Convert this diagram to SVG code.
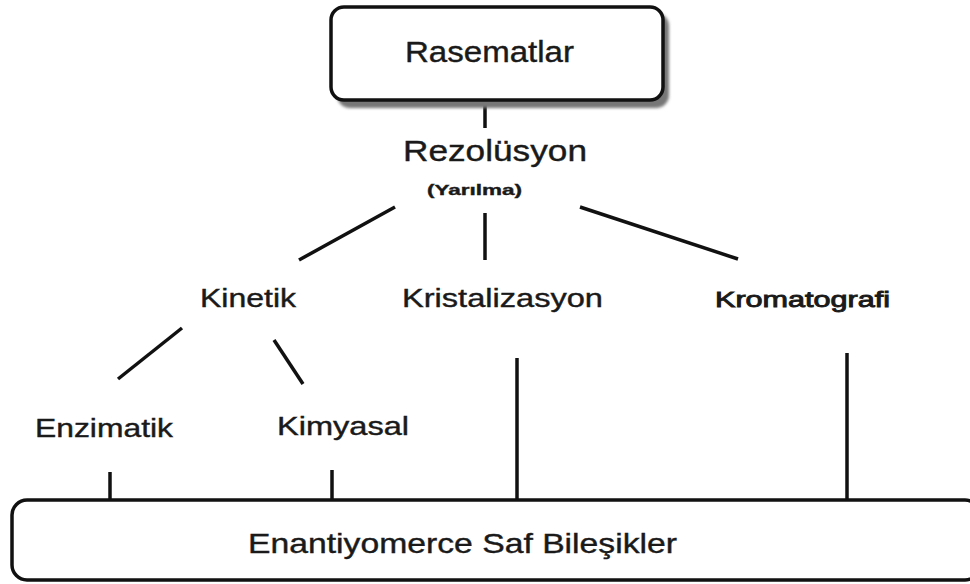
<svg xmlns="http://www.w3.org/2000/svg" width="970" height="584" viewBox="0 0 970 584">
<defs>
<filter id="blur" x="-10%" y="-10%" width="120%" height="130%"><feGaussianBlur stdDeviation="1.5"/></filter>
</defs>
<style>
.t{font-family:"Liberation Sans",Arial,sans-serif;fill:#1a1a1a;stroke:#1a1a1a;stroke-width:0.4;}
.c line{stroke:#111;stroke-width:3.5;stroke-linecap:butt;}
.box{fill:#fff;stroke:#111;stroke-width:3.5;}
</style>
<rect width="970" height="584" fill="#fff"/>
<g id="connectors" class="c">
<line x1="485" y1="102" x2="485" y2="128"/>
<line x1="395" y1="207" x2="299" y2="260"/>
<line x1="485" y1="213" x2="485" y2="260"/>
<line x1="580" y1="207" x2="738" y2="259"/>
<line x1="182" y1="328" x2="118" y2="379"/>
<line x1="274" y1="340" x2="303" y2="384"/>
<line x1="110" y1="472" x2="110" y2="500"/>
<line x1="332" y1="470" x2="332" y2="500"/>
<line x1="517" y1="358" x2="517" y2="500"/>
<line x1="847" y1="353" x2="847" y2="500"/>
</g>
<g id="rasematlar">
<rect x="337" y="13" width="332" height="95" rx="13" fill="#777" filter="url(#blur)"/>
<rect x="331" y="7" width="332" height="93" rx="13" class="box"/>
<text class="t" x="405" y="62" font-size="29" textLength="169" lengthAdjust="spacingAndGlyphs">Rasematlar</text>
</g>
<g id="rezolusyon">
<text class="t" x="403" y="161" font-size="29" textLength="184" lengthAdjust="spacingAndGlyphs">Rezolüsyon</text>
<text class="t" x="427" y="195" font-size="15" font-weight="bold" textLength="95" lengthAdjust="spacingAndGlyphs">(Yarılma)</text>
</g>
<g id="kinetik">
<text class="t" x="200" y="307" font-size="25" textLength="96" lengthAdjust="spacingAndGlyphs">Kinetik</text>
</g>
<g id="kristalizasyon">
<text class="t" x="402" y="307" font-size="25" textLength="201" lengthAdjust="spacingAndGlyphs">Kristalizasyon</text>
</g>
<g id="kromatografi">
<text class="t" x="715" y="307" font-size="22" textLength="175" lengthAdjust="spacingAndGlyphs" style="stroke-width:0.9">Kromatografi</text>
</g>
<g id="enzimatik">
<text class="t" x="35" y="437" font-size="25" textLength="138" lengthAdjust="spacingAndGlyphs">Enzimatik</text>
</g>
<g id="kimyasal">
<text class="t" x="277" y="435" font-size="25" textLength="132" lengthAdjust="spacingAndGlyphs">Kimyasal</text>
</g>
<g id="enantiyomerce">
<rect x="12" y="500" width="968" height="80" rx="15" class="box"/>
<text class="t" x="248" y="553" font-size="28" textLength="429" lengthAdjust="spacingAndGlyphs">Enantiyomerce Saf Bileşikler</text>
</g>
</svg>
